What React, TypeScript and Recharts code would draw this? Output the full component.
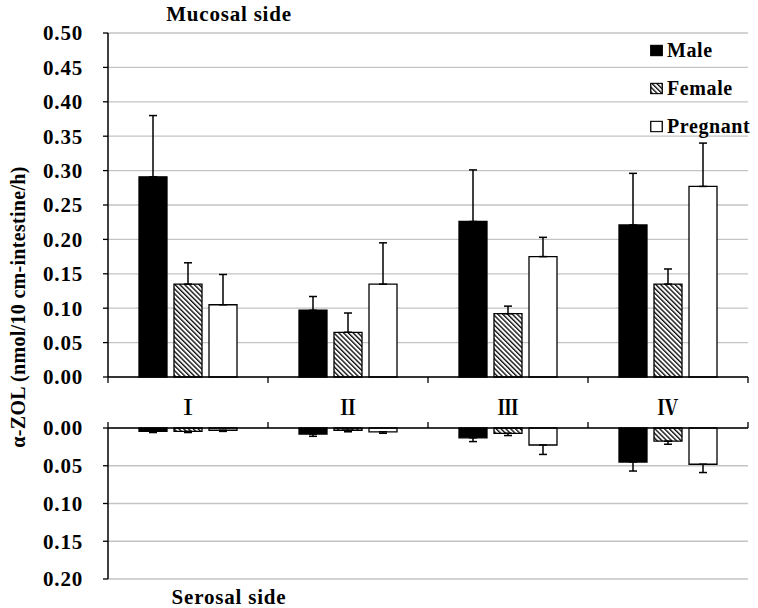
import React from 'react';
import { BarChart, Bar, XAxis, YAxis, CartesianGrid, ErrorBar } from 'recharts';

// categories (intestinal segments)
const categories = ['Ⅰ', 'Ⅱ', 'Ⅲ', 'Ⅳ'];

// mucosal side (upper panel)
const mucosalMale = [0.291, 0.097, 0.226, 0.221];
const mucosalMaleErr = [0.089, 0.02, 0.075, 0.075];
const mucosalFemale = [0.135, 0.065, 0.092, 0.135];
const mucosalFemaleErr = [0.031, 0.028, 0.011, 0.022];
const mucosalPregnant = [0.105, 0.135, 0.175, 0.277];
const mucosalPregnantErr = [0.044, 0.06, 0.028, 0.063];

// serosal side (lower panel, drawn downwards)
const serosalMale = [0.0045, 0.008, 0.013, 0.045];
const serosalMaleErr = [0.0015, 0.003, 0.005, 0.012];
const serosalFemale = [0.0045, 0.003, 0.007, 0.0175];
const serosalFemaleErr = [0.0015, 0.002, 0.003, 0.004];
const serosalPregnant = [0.003, 0.005, 0.0225, 0.048];
const serosalPregnantErr = [0.0015, 0.002, 0.0125, 0.011];

const mucosalTicks = [0, 0.05, 0.1, 0.15, 0.2, 0.25, 0.3, 0.35, 0.4, 0.45, 0.5];
const serosalTicks = [0, 0.05, 0.1, 0.15, 0.2];

const seriesNames = ['Male', 'Female', 'Pregnant'];

const mucosalData = categories.map((name, i) => ({
  name,
  male: mucosalMale[i],
  maleErr: [0, mucosalMaleErr[i]],
  female: mucosalFemale[i],
  femaleErr: [0, mucosalFemaleErr[i]],
  pregnant: mucosalPregnant[i],
  pregnantErr: [0, mucosalPregnantErr[i]],
}));

const serosalData = categories.map((name, i) => ({
  name,
  male: serosalMale[i],
  maleErr: [0, serosalMaleErr[i]],
  female: serosalFemale[i],
  femaleErr: [0, serosalFemaleErr[i]],
  pregnant: serosalPregnant[i],
  pregnantErr: [0, serosalPregnantErr[i]],
}));

const FONT = '"Liberation Serif", "Times New Roman", serif';
const NUMERAL_FONT = '"Noto Serif CJK JP", "Liberation Serif", serif';
const HALF_BAND = 80; // half of a category band (plot width 640 / 4 / 2)
const tickStyle = { fill: '#000', fontFamily: FONT, fontWeight: 700, fontSize: 21, letterSpacing: 0.8 };
const fmt = (v: number) => v.toFixed(2);

const HatchDefs = ({ id }: { id: string }) => (
  <defs>
    <pattern id={id} patternUnits="userSpaceOnUse" width={3.4} height={3.4} patternTransform="rotate(-45)">
      <rect width={3.4} height={3.4} fill="#fff" />
      <line x1={0.7} y1={0} x2={0.7} y2={3.4} stroke="#000" strokeWidth={1.3} />
    </pattern>
  </defs>
);

const TopTick = (props: any) => {
  const { x, y, payload, index, visibleTicksCount } = props;
  const last = index === visibleTicksCount - 1;
  return (
    <g>
      <line x1={x - HALF_BAND} y1={y} x2={x - HALF_BAND} y2={y + 6} stroke="#000" strokeWidth={1.3} />
      {last && <line x1={x + HALF_BAND} y1={y} x2={x + HALF_BAND} y2={y + 6} stroke="#000" strokeWidth={1.3} />}
      <text
        x={x}
        y={y + 29}
        textAnchor="middle"
        dominantBaseline="central"
        fill="#000"
        fontFamily={NUMERAL_FONT}
        fontWeight={700}
        fontSize={21}
      >
        {payload.value}
      </text>
    </g>
  );
};

const BottomTick = (props: any) => {
  const { x, y, index, visibleTicksCount } = props;
  const last = index === visibleTicksCount - 1;
  return (
    <g>
      <line x1={x - HALF_BAND} y1={y} x2={x - HALF_BAND} y2={y - 6} stroke="#000" strokeWidth={1.3} />
      {last && <line x1={x + HALF_BAND} y1={y} x2={x + HALF_BAND} y2={y - 6} stroke="#000" strokeWidth={1.3} />}
    </g>
  );
};

const bars = (hatchId: string) => [
  <Bar key="m" dataKey="male" name="Male" fill="#000" stroke="#000" strokeWidth={1.3} isAnimationActive={false}>
    <ErrorBar dataKey="maleErr" width={4} stroke="#000" strokeWidth={1.5} direction="y" />
  </Bar>,
  <Bar key="f" dataKey="female" name="Female" fill={`url(#${hatchId})`} stroke="#000" strokeWidth={1.3} isAnimationActive={false}>
    <ErrorBar dataKey="femaleErr" width={4} stroke="#000" strokeWidth={1.5} direction="y" />
  </Bar>,
  <Bar key="p" dataKey="pregnant" name="Pregnant" fill="#fff" stroke="#000" strokeWidth={1.3} isAnimationActive={false}>
    <ErrorBar dataKey="pregnantErr" width={4} stroke="#000" strokeWidth={1.5} direction="y" />
  </Bar>,
];

const LegendIcon = ({ kind }: { kind: number }) => (
  <svg width={13} height={12} style={{ marginRight: 4 }}>
    <HatchDefs id={`hatchLegend${kind}`} />
    <rect
      x={0.75}
      y={0.75}
      width={11.5}
      height={10.5}
      fill={kind === 0 ? '#000' : kind === 1 ? `url(#hatchLegend${kind})` : '#fff'}
      stroke="#000"
      strokeWidth={1.3}
    />
  </svg>
);

const textStyle: React.CSSProperties = {
  position: 'absolute',
  fontFamily: FONT,
  fontWeight: 700,
  fontSize: 21,
  letterSpacing: 0.8,
  color: '#000',
  whiteSpace: 'nowrap',
};

export default function App() {
  return (
    <div style={{ position: 'relative', width: 758, height: 608, background: '#fff', overflow: 'hidden' }}>
      <style>{'body{margin:0}'}</style>

      <div style={{ position: 'absolute', left: 0, top: 400 }}>
        <BarChart
          width={758}
          height={208}
          data={serosalData}
          margin={{ top: 22, right: 10, left: 0, bottom: 29 }}
          barGap={7}
          barCategoryGap={31}
        >
          <HatchDefs id="hatchBottom" />
          <CartesianGrid vertical={false} stroke="#c4c4c4" strokeWidth={1.3} />
          <XAxis
            dataKey="name"
            orientation="top"
            height={6}
            axisLine={{ stroke: '#000', strokeWidth: 1.5 }}
            tickLine={false}
            tickSize={0}
            tickMargin={0}
            tick={<BottomTick />}
            interval={0}
          />
          <YAxis
            width={108}
            reversed
            domain={[0, 0.2]}
            ticks={serosalTicks}
            tickFormatter={fmt}
            axisLine={{ stroke: '#000', strokeWidth: 1.5 }}
            tickLine={{ stroke: '#000', strokeWidth: 1.3 }}
            tickSize={5}
            tickMargin={20}
            tick={tickStyle}
            interval={0}
          />
          {bars('hatchBottom')}
        </BarChart>
      </div>

      <div style={{ position: 'absolute', left: 0, top: 0 }}>
        <BarChart
          width={758}
          height={420}
          data={mucosalData}
          margin={{ top: 33, right: 10, left: 0, bottom: 0 }}
          barGap={7}
          barCategoryGap={31}
        >
          <HatchDefs id="hatchTop" />
          <CartesianGrid vertical={false} stroke="#c4c4c4" strokeWidth={1.3} />
          <XAxis
            dataKey="name"
            height={43}
            axisLine={{ stroke: '#000', strokeWidth: 1.5 }}
            tickLine={false}
            tickSize={0}
            tickMargin={0}
            tick={<TopTick />}
            interval={0}
          />
          <YAxis
            width={108}
            domain={[0, 0.5]}
            ticks={mucosalTicks}
            tickFormatter={fmt}
            axisLine={{ stroke: '#000', strokeWidth: 1.5 }}
            tickLine={{ stroke: '#000', strokeWidth: 1.3 }}
            tickSize={5}
            tickMargin={20}
            tick={tickStyle}
            interval={0}
          />
          {bars('hatchTop')}
        </BarChart>
      </div>

      <div style={{ ...textStyle, left: 229, top: 14, transform: 'translate(-50%, -50%)' }}>Mucosal side</div>
      <div style={{ ...textStyle, left: 229, top: 597, transform: 'translate(-50%, -50%)' }}>Serosal side</div>
      <div style={{ ...textStyle, fontSize: 20, letterSpacing: 0.3, left: 18, top: 307, transform: 'translate(-50%, -50%) rotate(-90deg)' }}>
        α-ZOL (nmol/10 cm-intestine/h)
      </div>

      {seriesNames.map((s, i) => (
        <div
          key={s}
          style={{
            ...textStyle,
            fontSize: 20,
            letterSpacing: 0.6,
            left: 650,
            top: 50 + i * 38,
            transform: 'translateY(-50%)',
            display: 'flex',
            alignItems: 'center',
          }}
        >
          <LegendIcon kind={i} />
          {s}
        </div>
      ))}
    </div>
  );
}
